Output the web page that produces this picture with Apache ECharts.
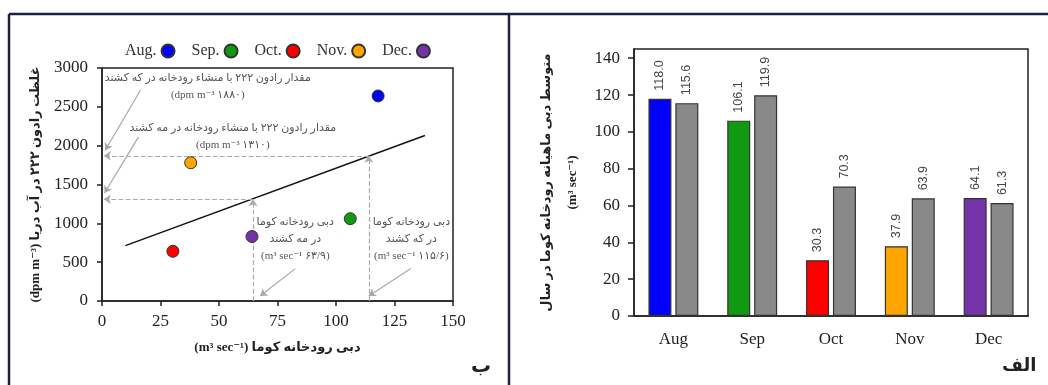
<!DOCTYPE html>
<html><head><meta charset="utf-8">
<script src="https://cdn.jsdelivr.net/npm/echarts@6/dist/echarts.min.js"></script>
<style>html,body{margin:0;padding:0;background:#fff}#c{width:1048px;height:385px}</style>
</head><body><div id="c"></div>
<script>
// ---- data ----
const months = ['Aug', 'Sep', 'Oct', 'Nov', 'Dec'];
const legendNames = ['Aug.', 'Sep.', 'Oct.', 'Nov.', 'Dec.'];
const flowX = [118.0, 106.1, 30.3, 37.9, 64.1];       // river discharge (m3/s)
const radonY = [2640, 1060, 640, 1780, 830];          // radon-222 (dpm/m3)
const trendX = [10, 138];
const trendY = [713, 2130];
const guideX = [64.5, 114];
const guideY = [1310, 1870];
const monthlyFlow = [118.0, 106.1, 30.3, 37.9, 64.1];
const annualFlow = [115.6, 119.9, 70.3, 63.9, 61.3];
const xTicksLeft = [0, 25, 50, 75, 100, 125, 150];
const yTicksLeft = [0, 500, 1000, 1500, 2000, 2500, 3000];
const yTicksRight = [0, 20, 40, 60, 80, 100, 120, 140];
const arrowFrom = [[16.4, 2714], [15.6, 2113], [82.6, 417], [132, 417]];
const arrowTo = [[1.4, 1941], [1.1, 1391], [67.6, 64], [114, 64]];
const annoText = [
  'مقدار رادون ۲۲۲ با منشاء رودخانه در که کشند\n(dpm m\u207B\u00B3 ۱۸۸۰)',
  'مقدار رادون ۲۲۲ با منشاء رودخانه در مه کشند\n(dpm m\u207B\u00B3 ۱۳۱۰)',
  'دبی رودخانه کوما\nدر مه کشند\n(m\u00B3 sec\u207B\u00B9 ۶۳/۹)',
  'دبی رودخانه کوما\nدر که کشند\n(m\u00B3 sec\u207B\u00B9 ۱۱۵/۶)'
];
const annoPos = [[45.2, 2763], [55.9, 2115], [82.6, 795], [132.2, 795]];

// ---- styles ----
const monthColors = ['#0000ff', '#119a11', '#ff0000', '#ffa500', '#7433a6'];
const SERIF = "'Liberation Serif','DejaVu Sans'";
const frameCol = '#1d2140';

const chart = echarts.init(document.getElementById('c'), null, {renderer: 'canvas'});

const scatterSeries = months.map((m, i) => ({
  name: legendNames[i], type: 'scatter', xAxisIndex: 0, yAxisIndex: 0,
  data: [[flowX[i], radonY[i]]], symbolSize: 12, z: 5,
  itemStyle: {color: monthColors[i], borderColor: '#333', borderWidth: 1, opacity: 1}
}));

const guideLines = [];
guideX.forEach((gx, i) => {
  guideLines.push([{coord: [gx, 0]}, {coord: [gx, guideY[i]]}]);
  guideLines.push([{coord: [gx, guideY[i]]}, {coord: [0.8, guideY[i]]}]);
});

const plain = v => String(v);

const option = {
  animation: false,
  backgroundColor: '#fff',
  legend: {
    data: legendNames, top: 38, left: 120, align: 'right', icon: 'circle',
    itemWidth: 13, itemHeight: 13, itemGap: 16,
    textStyle: {fontFamily: SERIF, fontSize: 16, color: '#333'}
  },
  grid: [
    {left: 102, top: 68, width: 351, height: 233, show: true, borderColor: '#222', borderWidth: 1.5, backgroundColor: 'transparent'},
    {left: 634, top: 49, width: 394, height: 267, show: true, borderColor: '#222', borderWidth: 1.5, backgroundColor: 'transparent'}
  ],
  xAxis: [
    {type: 'value', gridIndex: 0, min: 0, max: 150, interval: 25,
     splitLine: {show: false},
     axisLine: {lineStyle: {color: '#222', width: 1.5}},
     axisTick: {show: true, length: 5, lineStyle: {color: '#222', width: 1.5}},
     axisLabel: {fontFamily: SERIF, fontSize: 17, color: '#222', margin: 12, customValues: xTicksLeft, formatter: plain},
     name: '(m\u00B3 sec\u207B\u00B9) دبی رودخانه کوما', nameLocation: 'middle', nameGap: 40,
     nameTextStyle: {fontFamily: SERIF, fontSize: 13, fontWeight: 'bold', color: '#222'}},
    {type: 'category', gridIndex: 1, data: months,
     axisLine: {lineStyle: {color: '#222', width: 1.5}},
     axisTick: {show: false},
     axisLabel: {fontFamily: SERIF, fontSize: 17, color: '#222', margin: 15}}
  ],
  yAxis: [
    {type: 'value', gridIndex: 0, min: 0, max: 3000, interval: 500,
     splitLine: {show: false},
     axisLine: {show: true, lineStyle: {color: '#222', width: 1.5}},
     axisTick: {show: true, length: 5, lineStyle: {color: '#222', width: 1.5}},
     axisLabel: {fontFamily: SERIF, fontSize: 17, color: '#222', margin: 14, customValues: yTicksLeft, formatter: plain},
     name: '(dpm m\u207B\u00B3) غلظت رادون ۲۲۲ در آب دریا', nameLocation: 'middle', nameGap: 60,
     nameTextStyle: {fontFamily: SERIF, fontSize: 13, fontWeight: 'bold', color: '#222'}},
    {type: 'value', gridIndex: 1, min: 0, max: 145, interval: 20,
     splitLine: {show: false},
     axisLine: {show: true, lineStyle: {color: '#222', width: 1.5}},
     axisTick: {show: true, length: 6, lineStyle: {color: '#222', width: 1.5}, customValues: yTicksRight},
     axisLabel: {fontFamily: SERIF, fontSize: 17, color: '#222', margin: 14, customValues: yTicksRight, formatter: plain},
     name: 'متوسط دبی ماهیانه رودخانه کوما در سال\n(m\u00B3 sec\u207B\u00B9)', nameLocation: 'middle', nameGap: 48,
     nameTextStyle: {fontFamily: SERIF, fontSize: 13, fontWeight: 'bold', color: '#222', lineHeight: 26}}
  ],
  series: [
    {
      name: 'trend', type: 'line', xAxisIndex: 0, yAxisIndex: 0,
      data: trendX.map((x, i) => [x, trendY[i]]), showSymbol: false, symbol: 'none',
      lineStyle: {color: '#111', width: 1.5}, z: 3, silent: true,
      markLine: {
        silent: true, symbol: ['none', 'arrow'], symbolSize: 7, label: {show: false},
        lineStyle: {color: '#aaa', type: 'dashed', width: 1.2},
        data: guideLines
      }
    },
    {
      name: 'arrows', type: 'line', xAxisIndex: 0, yAxisIndex: 0, data: [], silent: true,
      markLine: {
        silent: true, symbol: ['none', 'arrow'], symbolSize: 7, label: {show: false},
        lineStyle: {color: '#a8a8a8', type: 'solid', width: 1.2},
        data: arrowFrom.map((f, i) => [{coord: f}, {coord: arrowTo[i]}])
      },
      markPoint: {
        silent: true, symbol: 'circle', symbolSize: 1, itemStyle: {color: 'transparent'},
        label: {show: true, position: 'inside', fontFamily: SERIF, fontSize: 11, color: '#555', lineHeight: 17, align: 'center', verticalAlign: 'middle'},
        data: annoPos.map((p, i) => ({coord: p, label: {formatter: annoText[i]}}))
      }
    },
    ...scatterSeries,
    {
      name: 'monthly', type: 'bar', xAxisIndex: 1, yAxisIndex: 1, data: monthlyFlow,
      barWidth: 23, barGap: '17%',
      itemStyle: {color: p => monthColors[p.dataIndex], borderColor: '#333', borderWidth: 1.2},
      label: {show: true, position: 'top', rotate: 90, align: 'left', verticalAlign: 'middle', distance: 8,
        fontFamily: "'Liberation Sans'", fontSize: 12.5, color: '#444', formatter: p => p.value.toFixed(1)}
    },
    {
      name: 'annual', type: 'bar', xAxisIndex: 1, yAxisIndex: 1, data: annualFlow,
      barWidth: 23, barGap: '17%',
      itemStyle: {color: '#898989', borderColor: '#333', borderWidth: 1.2},
      label: {show: true, position: 'top', rotate: 90, align: 'left', verticalAlign: 'middle', distance: 8,
        fontFamily: "'Liberation Sans'", fontSize: 12.5, color: '#444', formatter: p => p.value.toFixed(1)}
    }
  ],
  graphic: [
    {type: 'line', shape: {x1: 9, y1: 14, x2: 1048, y2: 14}, style: {stroke: frameCol, lineWidth: 2.5}, silent: true},
    {type: 'line', shape: {x1: 9, y1: 14, x2: 9, y2: 385}, style: {stroke: frameCol, lineWidth: 2.5}, silent: true},
    {type: 'line', shape: {x1: 509, y1: 14, x2: 509, y2: 385}, style: {stroke: frameCol, lineWidth: 2.5}, silent: true},
    {type: 'text', left: 471, top: 357, style: {text: 'ب', font: "bold 20px 'DejaVu Sans'", fill: '#222'}, silent: true},
    {type: 'text', left: 1002, top: 357, style: {text: 'الف', font: "bold 18px 'DejaVu Sans'", fill: '#222'}, silent: true}
  ]
};
chart.setOption(option);
</script></body></html>
